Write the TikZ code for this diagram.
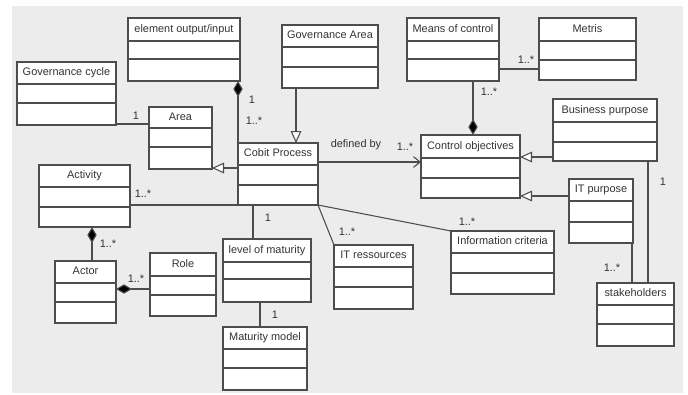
\documentclass[tikz,border=0pt]{standalone}
\usepackage{fontspec}
\setmainfont{Liberation Sans}
\usetikzlibrary{arrows.meta}
\definecolor{bggray}{HTML}{ECECEC}
\definecolor{linegray}{HTML}{4D4D4D}
\definecolor{txtgray}{HTML}{333333}
\tikzset{
 clsbox/.style={draw=linegray, line width=0.9pt, fill=white, inner sep=0pt, outer sep=0pt, rectangle},
 clsdiv/.style={draw=linegray, line width=0.9pt},
 clstext/.style={text=txtgray, font=\fontsize{8.2}{9}\selectfont, inner sep=0pt, text height=6pt, text depth=1.6pt},
 mult/.style={text=txtgray, font=\fontsize{8.2}{9}\selectfont, inner sep=0pt},
 assoc/.style={draw=linegray, line width=0.8pt},
 gen/.style={assoc, -{Triangle[length=9pt,width=8pt,fill=white]}},
 comp/.style={assoc, -{Diamond[length=12pt,width=7pt,fill=black]}},
 navig/.style={assoc, -{Straight Barb[length=5pt,width=8pt]}},
}
\newcommand\umlcls[8]{%
  \node[clsbox, minimum width={(#4-#2)*0.75pt}, minimum height={(#5-#3)*0.75pt}] (#1) at ({(#2+#4)/2},{(#3+#5)/2}) {};
  \draw[clsdiv] (#1.west |- 0,#6) -- (#1.east |- 0,#6) (#1.west |- 0,#7) -- (#1.east |- 0,#7);
  \node[clstext] (#1-t) at ({(#2+#4)/2},{(#3+#6)/2}) {#8};
}
\begin{document}
\begin{tikzpicture}[x=0.75pt,y=-0.75pt]
\useasboundingbox (0,0) rectangle (688,394);
\fill[white] (0,0) rectangle (688,394);
\fill[bggray] (12,6) rectangle (683,393);
% classes
\umlcls{eo}{128}{18}{240}{81}{41}{59}{element output/input}
\umlcls{gc}{17}{62}{116}{125}{84}{103}{Governance cycle}
\umlcls{area}{149}{107}{212}{169}{128}{147}{Area}
\umlcls{act}{39}{165}{130}{227}{187}{207}{Activity}
\umlcls{ga}{282}{25}{378}{88}{47}{67}{Governance Area}
\umlcls{cp}{238}{143}{318}{205}{165}{185}{Cobit Process}
\umlcls{mc}{407}{18}{499}{81}{41}{59}{Means of control}
\umlcls{met}{539}{18}{636}{80}{41}{60}{Metris}
\umlcls{co}{421}{135}{520}{198}{158}{178}{Control objectives}
\umlcls{bp}{553}{99}{657}{161}{122}{142}{Business purpose}
\umlcls{itp}{569}{179}{633}{243}{201}{222}{IT purpose}
\umlcls{st}{597}{283}{674}{346}{305}{324}{stakeholders}
\umlcls{ic}{451}{231}{554}{294}{253}{273}{Information criteria}
\umlcls{itr}{334}{245}{413}{309}{267}{287}{IT ressources}
\umlcls{lom}{223}{239}{311}{302}{262}{279}{level of maturity}
\umlcls{mm}{223}{327}{307}{390}{349}{368}{Maturity model}
\umlcls{actor}{55}{261}{116}{323}{283}{302}{Actor}
\umlcls{role}{150}{253}{216}{316}{276}{295}{Role}
% connectors
\draw[assoc] (gc.east |- 0,124) -- (area.west |- 0,124);
\draw[gen] (cp.west |- 0,168) -- (area.east |- 0,168);
\draw[gen] (ga.south -| 296,0) -- (cp.north -| 296,0);
\draw[comp] (cp.north west) -- (cp.north west |- eo.south);
\draw[navig] (cp.east |- 0,162) -- (co.west |- 0,162);
\draw[comp] (mc.south -| 473,0) -- (co.north -| 473,0);
\draw[assoc] (mc.east |- 0,69) -- (met.west |- 0,69);
\draw[gen] (bp.west |- 0,157) -- (co.east |- 0,157);
\draw[gen] (itp.west |- 0,196) -- (co.east |- 0,196);
\draw[assoc] (bp.south -| 648,0) -- (st.north -| 648,0);
\draw[assoc] (itp.south -| 632,0) -- (st.north -| 632,0);
\draw[assoc] (cp.south east) -- (ic.north west);
\draw[assoc] (cp.south east) -- (itr.north west);
\draw[assoc] (cp.south -| 253,0) -- (lom.north -| 253,0);
\draw[assoc] (lom.south -| 260,0) -- (mm.north -| 260,0);
\draw[assoc] (act.east |- cp.south) -- (cp.south west);
\draw[comp] (actor.north -| 92,0) -- (act.south -| 92,0);
\draw[comp] (role.west |- 0,289) -- (actor.east |- 0,289);
% multiplicities and labels
\node[mult] (l1) at (136,116) {1};
\node[mult] (l2) at (252,100) {1};
\node[mult] (l3) at (254,121) {1..*};
\node[mult] (l4) at (356,145) {defined by};
\node[mult] (l5) at (405,147) {1..*};
\node[mult] (l6) at (489,92) {1..*};
\node[mult] (l7) at (526,60) {1..*};
\node[mult] (l8) at (663,182) {1};
\node[mult] (l9) at (612,268) {1..*};
\node[mult] (l10) at (467,222) {1..*};
\node[mult] (l11) at (347,232) {1..*};
\node[mult] (l12) at (268,218) {1};
\node[mult] (l13) at (275,315) {1};
\node[mult] (l14) at (143,194) {1..*};
\node[mult] (l15) at (108,244) {1..*};
\node[mult] (l16) at (136,279) {1..*};
\end{tikzpicture}
\end{document}
